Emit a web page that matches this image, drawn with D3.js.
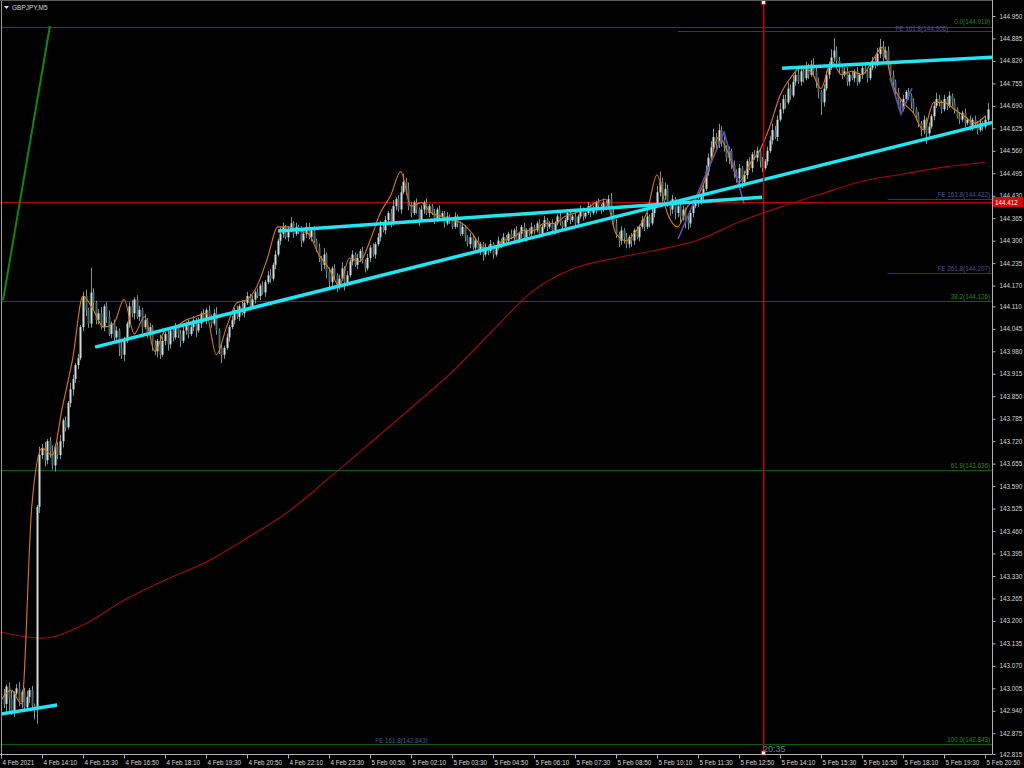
<!DOCTYPE html>
<html><head><meta charset="utf-8">
<script src="https://cdn.jsdelivr.net/npm/d3@7"></script>
<style>html,body{margin:0;padding:0;background:#000;overflow:hidden}</style>
</head><body><svg id="c" width="1024" height="768"></svg>
<script>
// ---- DATA ----
const symbol = "GBPJPY,M5";
const closes = [
142.985,142.960,143.010,142.975,142.940,142.990,143.005,142.965,142.995,142.950,
142.980,143.000,142.955,142.945,143.530,143.680,143.700,143.665,143.720,143.690,
143.650,143.705,143.680,143.720,143.780,143.760,143.830,143.870,143.900,143.940,
143.960,144.050,144.140,144.100,144.060,144.150,144.120,144.070,144.090,144.050,
144.110,144.080,144.030,144.060,144.020,144.040,143.990,143.970,144.010,144.060,
144.110,144.090,144.130,144.080,144.100,144.050,144.070,144.030,144.050,144.000,
143.980,144.010,143.970,144.010,144.030,144.000,144.040,144.020,144.050,144.030,
144.010,144.040,144.060,144.030,144.050,144.070,144.040,144.060,144.090,144.070,
144.100,144.080,144.060,144.090,144.040,143.990,143.970,143.990,144.020,144.050,
144.070,144.100,144.080,144.110,144.090,144.120,144.140,144.110,144.130,144.150,
144.140,144.170,144.150,144.180,144.200,144.190,144.230,144.260,144.300,144.320,
144.340,144.310,144.330,144.350,144.320,144.340,144.330,144.300,144.320,144.340,
144.310,144.330,144.300,144.280,144.250,144.230,144.260,144.210,144.180,144.220,
144.200,144.170,144.190,144.220,144.180,144.200,144.240,144.260,144.230,144.250,
144.270,144.240,144.220,144.250,144.280,144.260,144.290,144.310,144.340,144.330,
144.360,144.380,144.350,144.400,144.420,144.390,144.440,144.470,144.450,144.400,
144.380,144.410,144.390,144.360,144.390,144.410,144.380,144.400,144.380,144.360,
144.390,144.370,144.380,144.350,144.370,144.360,144.340,144.370,144.350,144.320,
144.340,144.310,144.290,144.310,144.280,144.300,144.270,144.290,144.260,144.280,
144.270,144.290,144.260,144.280,144.300,144.290,144.310,144.300,144.320,144.310,
144.330,144.300,144.320,144.340,144.310,144.330,144.320,144.340,144.330,144.350,
144.320,144.340,144.360,144.340,144.350,144.330,144.350,144.370,144.350,144.340,
144.360,144.380,144.360,144.370,144.350,144.370,144.390,144.370,144.380,144.400,
144.380,144.390,144.410,144.400,144.390,144.410,144.400,144.420,144.380,144.350,
144.320,144.300,144.330,144.310,144.290,144.310,144.300,144.330,144.310,144.340,
144.360,144.340,144.370,144.350,144.380,144.400,144.440,144.470,144.430,144.450,
144.410,144.390,144.420,144.380,144.400,144.370,144.390,144.360,144.350,144.380,
144.400,144.420,144.410,144.430,144.450,144.500,144.540,144.570,144.600,144.580,
144.620,144.590,144.570,144.540,144.560,144.520,144.500,144.480,144.510,144.470,
144.490,144.530,144.510,144.550,144.540,144.560,144.530,144.510,144.530,144.560,
144.590,144.620,144.600,144.650,144.680,144.710,144.700,144.740,144.720,144.760,
144.780,144.760,144.790,144.770,144.800,144.780,144.810,144.790,144.760,144.730,
144.700,144.740,144.780,144.800,144.830,144.850,144.820,144.800,144.780,144.790,
144.760,144.780,144.770,144.790,144.760,144.780,144.800,144.790,144.770,144.800,
144.820,144.810,144.840,144.860,144.830,144.850,144.810,144.780,144.760,144.730,
144.700,144.680,144.710,144.730,144.720,144.700,144.680,144.660,144.640,144.620,
144.650,144.610,144.630,144.660,144.690,144.710,144.700,144.680,144.710,144.690,
144.720,144.700,144.680,144.660,144.650,144.670,144.640,144.650,144.630,144.650,
144.640,144.620,144.640,144.630,144.650,144.680];
const firstOpen = 142.990;
// wick lengths above / below the body, in steps of 0.006
const wickUp = [
2,3,1,2,4,1,2,3,1,2,3,1,2,1,1,4,2,3,1,2,
3,1,2,3,1,2,1,3,2,1,2,1,2,3,1,12,2,1,2,3,
1,2,3,1,2,2,1,3,2,1,2,3,1,2,2,1,3,1,2,1,
2,1,3,2,1,2,1,1,2,1,2,3,1,2,1,2,1,3,1,2,
1,2,1,2,3,1,2,1,2,1,2,1,2,1,3,1,2,1,2,1,
2,1,2,1,2,3,1,2,1,3,2,1,2,3,1,2,1,2,1,2,
2,1,2,1,2,1,3,1,2,1,2,1,2,3,1,2,1,2,1,2,
1,2,1,2,1,2,1,2,3,1,2,1,2,3,1,2,3,4,2,3,
2,1,2,1,2,1,2,1,1,2,1,2,1,1,2,1,1,2,1,1,
2,1,1,2,1,1,2,1,1,2,1,2,1,1,2,1,2,1,1,2,
1,2,1,1,2,1,1,2,1,1,2,1,2,1,1,2,1,1,2,1,
1,2,1,1,2,1,2,1,1,2,1,2,1,2,1,2,1,2,3,2,
2,1,2,1,2,1,2,1,2,1,2,1,2,1,2,1,3,5,2,3,
2,1,2,1,2,1,2,1,2,1,2,1,2,1,2,3,2,3,4,2,
3,2,2,1,2,1,2,1,2,1,2,1,2,1,2,2,1,2,1,2,
2,3,2,2,3,2,2,3,2,3,2,3,2,2,3,2,2,3,2,2,
1,2,2,3,4,6,2,2,1,2,2,1,2,1,2,1,2,2,1,2,
2,2,3,4,3,2,2,1,2,1,2,1,2,1,2,1,2,1,2,1,
2,1,2,1,2,3,2,1,2,1,2,1,2,1,2,1,2,1,2,1,
2,1,2,1,2,3];
const wickDn = [
3,2,4,6,2,3,1,2,3,2,2,3,2,5,7,3,2,3,2,3,
2,3,2,2,3,2,1,2,3,2,2,1,2,3,2,2,3,2,2,1,
2,3,1,2,3,2,4,2,3,1,2,2,3,1,2,3,1,2,2,3,
2,3,2,1,2,3,2,2,1,2,3,1,2,2,1,2,3,1,2,1,
2,1,2,1,2,3,4,2,1,2,1,2,1,2,1,2,1,2,1,2,
1,2,1,2,1,2,1,2,1,2,2,1,2,1,2,1,2,3,1,2,
1,2,1,2,2,3,2,3,4,2,2,3,2,1,4,2,1,2,1,2,
2,1,2,1,2,1,2,1,2,1,2,1,2,1,2,1,2,1,3,2,
2,1,2,3,1,2,1,2,1,2,1,2,1,2,1,2,1,1,2,1,
1,2,1,2,1,2,1,2,3,1,2,1,2,1,1,2,1,2,1,1,
2,1,1,2,1,2,1,1,2,1,2,1,1,2,1,1,2,1,1,2,
1,1,2,1,2,1,1,2,1,1,2,1,2,1,2,1,2,1,2,2,
2,3,2,3,2,2,3,2,1,2,1,2,1,2,1,2,1,2,3,2,
2,3,2,3,2,3,2,4,3,2,2,1,2,1,2,1,2,1,2,3,
2,3,2,2,3,2,3,2,4,3,2,2,1,2,1,2,3,2,1,2,
1,2,1,2,1,2,3,1,2,1,2,1,2,2,1,2,1,2,3,3,
6,2,1,2,1,2,2,3,2,1,2,2,1,2,2,1,2,1,2,1,
1,2,1,2,2,1,2,3,2,2,3,2,1,2,2,3,2,2,2,3,
2,5,2,1,2,1,2,2,1,2,1,2,2,1,2,1,2,1,2,2,
1,2,1,2,1,2];
// orange fast line, one value every 4 bars
const orange = [142.97,143.00,142.96,143.53,143.70,143.68,143.82,143.96,144.14,144.10,
144.05,144.06,144.13,144.03,144.08,143.98,144.04,144.05,144.07,144.08,
144.09,143.97,144.05,144.12,144.13,144.17,144.25,144.34,144.34,144.33,
144.32,144.26,144.22,144.17,144.25,144.24,144.30,144.38,144.43,144.50,
144.40,144.41,144.38,144.37,144.36,144.35,144.32,144.28,144.28,144.30,
144.31,144.33,144.33,144.35,144.35,144.37,144.38,144.39,144.41,144.42,
144.32,144.30,144.33,144.38,144.49,144.38,144.34,144.40,144.43,144.50,
144.60,144.55,144.47,144.52,144.56,144.63,144.72,144.77,144.80,144.79,
144.74,144.82,144.78,144.79,144.78,144.82,144.86,144.75,144.70,144.67,
144.62,144.70,144.70,144.68,144.66,144.64,144.66];
// red slow moving average, one value every 16 bars
const slowMA = [143.168,143.150,143.188,143.260,143.318,143.370,143.440,143.515,143.613,
143.714,143.816,143.920,144.041,144.157,144.221,144.250,144.273,144.302,144.354,
144.397,144.435,144.472,144.493,144.513,144.527];
const timeLabels = ["4 Feb 2021","4 Feb 14:10","4 Feb 15:30","4 Feb 16:50","4 Feb 18:10",
"4 Feb 19:30","4 Feb 20:50","4 Feb 22:10","4 Feb 23:30","5 Feb 00:50","5 Feb 02:10",
"5 Feb 03:30","5 Feb 04:50","5 Feb 06:10","5 Feb 07:30","5 Feb 08:50","5 Feb 10:10",
"5 Feb 11:30","5 Feb 12:50","5 Feb 14:10","5 Feb 15:30","5 Feb 16:50","5 Feb 18:10",
"5 Feb 19:30","5 Feb 20:50"];
const priceTicks = [142.815,142.875,142.940,143.005,143.070,143.135,143.200,143.265,143.330,
143.395,143.460,143.525,143.590,143.655,143.720,143.785,143.850,143.915,143.980,144.045,
144.110,144.170,144.235,144.300,144.365,144.430,144.495,144.560,144.625,144.690,144.755,
144.820,144.885,144.950];
// trend lines [bar1, price1, bar2, price2]
const trendLines = [[-0.4,142.930,21.9,142.957],[36.7,143.992,387.2,144.643],
[108.1,144.328,297.0,144.426],[304.8,144.799,387.2,144.831]];
const greenLine = [0.8,144.128,19.1,144.921];
const fibLevels = [{v:144.919,t:"0.0(144.919)"},{v:144.126,t:"38.2(144.126)"},
{v:143.636,t:"61.8(143.636)"},{v:142.843,t:"100.0(142.843)"}];
const feLevels = [{v:144.906,from:264.2,t:"FE 161.8(144.906)"},{v:144.422,from:346,t:"FE 161.8(144.422)"},
{v:144.207,from:346,t:"FE 261.8(144.207)"}];
const feBottom = {v:142.843,bar:146,t:"FE 161.8(142.843)"};
const zig1 = [[264.2,144.305],[282.2,144.614],[290.0,144.406]];
const zig2 = [[346.9,144.770],[351.2,144.666],[355.5,144.741]];
const hLine = 144.412;
const vLineBar = 297.4, vLineText = "20:35";

// ---- DRAW ----
const svg = d3.select('#c');
svg.append('rect').attr('width',1024).attr('height',768).attr('fill','#000');
const x = d3.scaleLinear().domain([0,385]).range([1,987.6]);
const y = d3.scaleLinear().domain([142.815,144.950]).range([754,16]);
svg.append('clipPath').attr('id','pc').append('rect').attr('x',1).attr('y',1).attr('width',991).attr('height',753);
const g = svg.append('g').attr('clip-path','url(#pc)');
const font = 'Liberation Sans, Arial, sans-serif';

// fib horizontal green lines
fibLevels.forEach(f=>{
  const yy = Math.round(y(f.v))+0.5;
  g.append('line').attr('x1',0).attr('x2',992).attr('y1',yy).attr('y2',yy)
    .attr('stroke','#0b5e0b').attr('stroke-width',1);
});
// FE lines purple
feLevels.forEach(f=>{
  const yy = Math.round(y(f.v))+0.5;
  g.append('line').attr('x1',x(f.from)).attr('x2',992).attr('y1',yy).attr('y2',yy)
    .attr('stroke','#32326e').attr('stroke-width',1);
});
// horizontal red line
const hy = Math.round(y(hLine))+0.5;
g.append('line').attr('x1',0).attr('x2',992).attr('y1',hy).attr('y2',hy)
  .attr('stroke','#c00000').attr('stroke-width',1);
// slow MA
g.append('path').datum(slowMA).attr('fill','none').attr('stroke','#a00a0a').attr('stroke-width',1.2)
  .attr('d',d3.line().x((d,i)=>x(i*16)).y(d=>y(d)).curve(d3.curveMonotoneX));

// candles
const bars = closes.map((c,i)=>{
  const o = i===0 ? firstOpen : closes[i-1];
  const hi = Math.max(o,c) + (wickUp[i]||1)*0.006;
  const lo = Math.min(o,c) - (wickDn[i]||1)*0.006;
  return {i,o,c,hi,lo};
});
const cg = g.append('g');
cg.selectAll('line.w').data(bars).join('line').attr('class','w')
  .attr('x1',d=>Math.round(x(d.i))+0.5).attr('x2',d=>Math.round(x(d.i))+0.5)
  .attr('y1',d=>y(d.hi)).attr('y2',d=>y(d.lo)).attr('stroke','#7a9898').attr('stroke-width',1);
cg.selectAll('rect.b').data(bars).join('rect').attr('class','b')
  .attr('x',d=>Math.round(x(d.i))-0.5).attr('width',2)
  .attr('y',d=>y(Math.max(d.o,d.c))).attr('height',d=>Math.max(1,Math.abs(y(d.o)-y(d.c))))
  .attr('fill',d=>d.c>=d.o?'#cfdcdc':'#48696b');

// orange line
g.append('path').datum(orange).attr('fill','none').attr('stroke','#e07a10').attr('stroke-width',1.1)
  .attr('d',d3.line().x((d,i)=>x(i*4)).y(d=>y(d)).curve(d3.curveMonotoneX));

// zigzags purple
[zig1,zig2].forEach(z=>{
  g.append('path').datum(z).attr('fill','none').attr('stroke','#5a50b0').attr('stroke-width',1.6)
    .attr('d',d3.line().x(d=>x(d[0])).y(d=>y(d[1])));
});
// cyan trend lines
trendLines.forEach(t=>{
  g.append('line').attr('x1',x(t[0])).attr('y1',y(t[1])).attr('x2',x(t[2])).attr('y2',y(t[3]))
    .attr('stroke','#1ee6f2').attr('stroke-width',3.5);
});
// green diagonal
g.append('line').attr('x1',x(greenLine[0])).attr('y1',y(greenLine[1])).attr('x2',x(greenLine[2])).attr('y2',y(greenLine[3]))
  .attr('stroke','#0a8a0a').attr('stroke-width',2);

// labels for fib / fe (top pair nudged so they do not collide)
fibLevels.forEach((f,k)=>{
  g.append('text').attr('x',990).attr('y',y(f.v)-(k===0?3:2)).attr('text-anchor','end')
    .attr('font-family',font).attr('font-size',6.3).attr('fill','#1f8a1f').text(f.t);
});
feLevels.forEach((f,k)=>{
  g.append('text').attr('x',k===0?948:990).attr('y',k===0?y(f.v)-0.5:y(f.v)-2).attr('text-anchor','end')
    .attr('font-family',font).attr('font-size',6.3).attr('fill','#50509a').text(f.t);
});
g.append('text').attr('x',x(feBottom.bar)).attr('y',y(feBottom.v)-1).attr('text-anchor','start')
  .attr('font-family',font).attr('font-size',6.3).attr('fill','#50509a').text(feBottom.t);

// vertical red line (drawn as a filled rect so it stays solid red)
const vx = Math.round(x(vLineBar));
svg.append('rect').attr('x',vx).attr('y',0).attr('width',1.4).attr('height',754).attr('fill','#d40000');
svg.append('rect').attr('x',vx-1.5).attr('y',0.5).attr('width',4).attr('height',4).attr('fill','#fff').attr('stroke','#d40000').attr('stroke-width',0.8);
svg.append('rect').attr('x',vx-1.5).attr('y',751).attr('width',4).attr('height',4).attr('fill','#fff').attr('stroke','#d40000').attr('stroke-width',0.8);
svg.append('text').attr('x',vx).attr('y',752).attr('font-family',font)
  .attr('font-size',9).attr('fill','#5b8d9c').text(vLineText);

// frame
svg.append('line').attr('x1',1.5).attr('x2',1.5).attr('y1',0).attr('y2',754).attr('stroke','#9a9a9a');
svg.append('line').attr('x1',0).attr('x2',992).attr('y1',0.5).attr('y2',0.5).attr('stroke','#5a5a5a');

// axes
const ya = d3.axisRight(y).tickValues(priceTicks).tickFormat(d3.format('.3f')).tickSize(3).tickPadding(4);
const yg = svg.append('g').attr('transform','translate(992.5,0)').call(ya);
yg.select('.domain').attr('stroke','#b0b0b0').attr('d','M0,0V754');
yg.selectAll('.tick line').attr('stroke','#b0b0b0');
yg.selectAll('text').attr('font-family',font).attr('font-size',6.3).attr('fill','#d8d8d8');
const xa = d3.axisBottom(x).tickValues(timeLabels.map((d,i)=>i*16)).tickFormat((d,i)=>timeLabels[i]).tickSize(4).tickPadding(2);
const xg = svg.append('g').attr('transform','translate(0,754.5)').call(xa);
xg.select('.domain').attr('stroke','#b0b0b0').attr('d','M0,0H992.5');
xg.selectAll('.tick line').attr('stroke','#b0b0b0');
xg.selectAll('text').attr('font-family',font).attr('font-size',6.3).attr('fill','#d8d8d8').attr('text-anchor','start').attr('x',1);

// current price box
svg.append('rect').attr('x',993).attr('y',hy-5.5).attr('width',30).attr('height',10).attr('fill','#e00000');
svg.append('text').attr('x',995).attr('y',hy+2).attr('font-family',font).attr('font-size',6.3).attr('fill','#fff').text(hLine.toFixed(3));

// title
svg.append('path').attr('d','M4,6L9,6L6.5,9Z').attr('fill','#e0e0e0');
svg.append('text').attr('x',12).attr('y',10).attr('font-family',font).attr('font-size',6.5).attr('fill','#d8d8d8').text(symbol);
</script></body></html>
